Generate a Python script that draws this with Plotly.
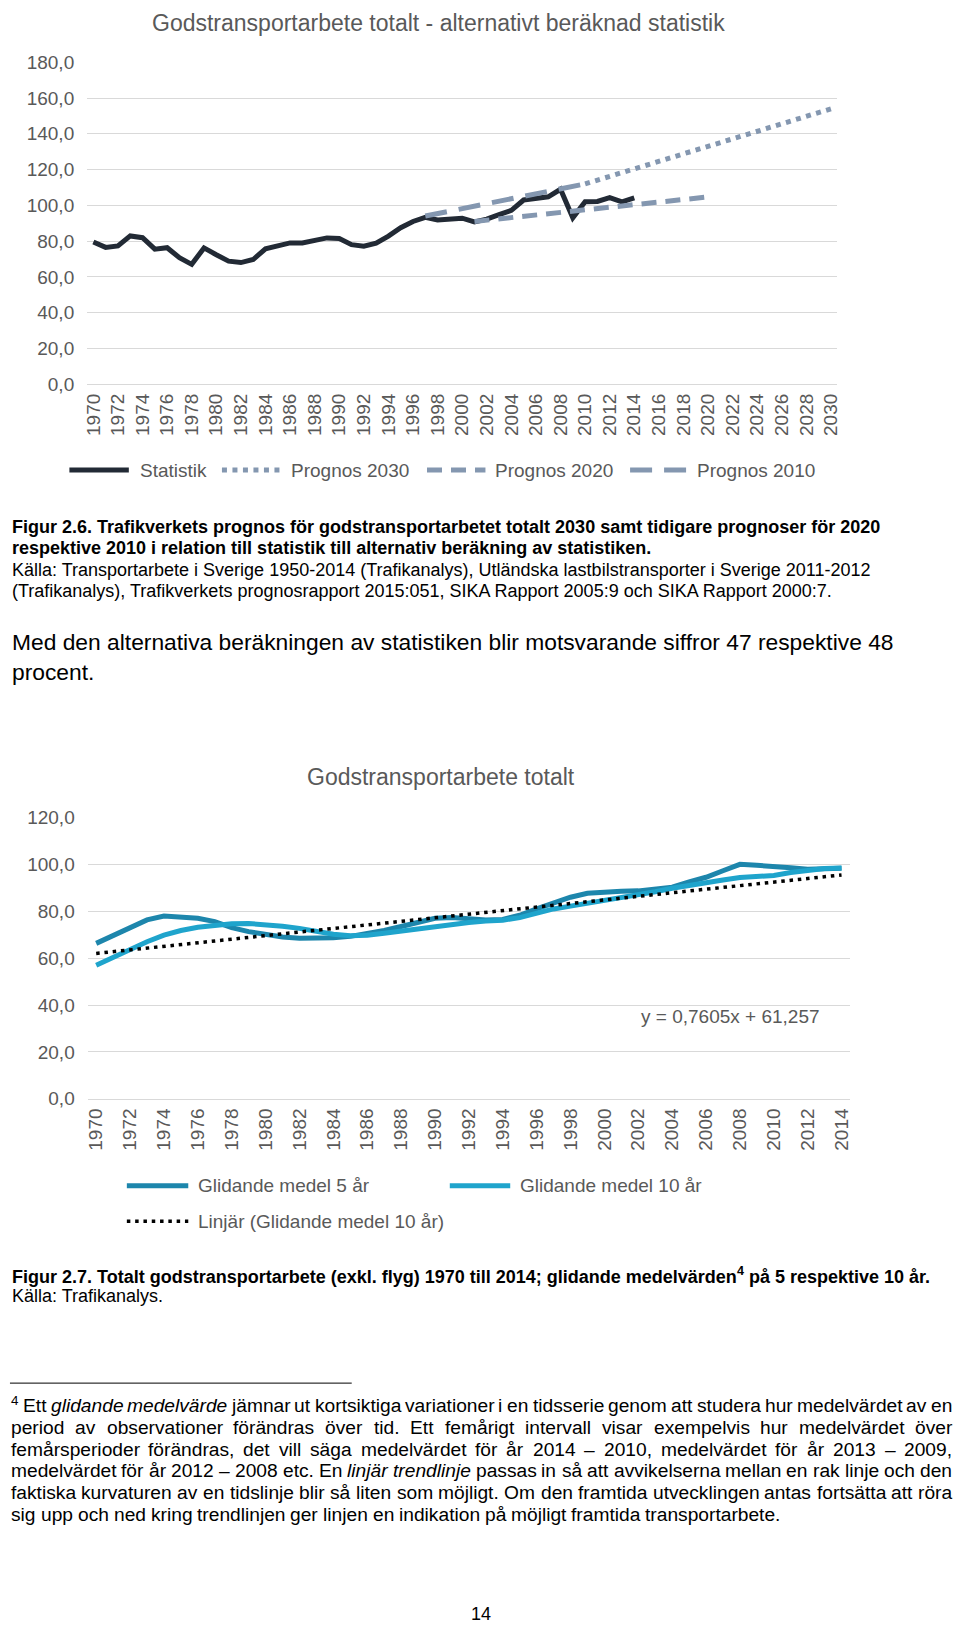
import plotly.graph_objects as go

W, H = 960, 1634
FONT = "Liberation Sans, Arial, sans-serif"
GRAY = "#595959"
GRID = "#D9D9D9"

# ---------------- Chart 1 data ----------------
top_years = list(range(1970, 2031))
stat_years = list(range(1970, 2015))
statistik = [79.5, 76.5, 77.3, 82.9, 81.9, 75.5, 76.3, 70.7, 67.0, 76.2,
             72.4, 68.8, 68.0, 69.7, 75.7, 77.0, 79.0, 79.0, 80.7, 81.8,
             81.5, 78.0, 77.2, 78.9, 82.8, 87.5, 91.0, 93.3, 91.8, 92.2,
             92.8, 90.7, 92.3, 94.8, 97.2, 103.0, 103.7, 104.8, 109.0, 93.0,
             102.0, 102.2, 104.3, 102.0, 104.2]
prog2030_years = [2010, 2030]
prog2030 = [112.0, 154.0]
prog2020_years = [2001, 2020]
prog2020 = [91.0, 104.7]
prog2010_years = [1997, 2010]
prog2010 = [94.0, 112.0]
top_yticks = [0, 20, 40, 60, 80, 100, 120, 140, 160, 180]
top_yticklabels = ["0,0", "20,0", "40,0", "60,0", "80,0", "100,0", "120,0", "140,0", "160,0", "180,0"]
top_title = "Godstransportarbete totalt - alternativt beräknad statistik"
top_legend = ["Statistik", "Prognos 2030", "Prognos 2020", "Prognos 2010"]

# ---------------- Chart 2 data ----------------
bot_years = list(range(1970, 2015))
ma5 = [66.3, 69.8, 73.2, 76.3, 78.0, 77.3, 77.0, 75.6, 73.0, 71.3,
       70.2, 69.0, 68.5, 68.4, 68.7, 69.3, 70.3, 71.8, 73.5, 75.5,
       77.0, 77.3, 76.8, 76.3, 76.5, 78.3, 81.0, 83.5, 86.0, 87.7,
       88.3, 88.5, 88.7, 89.5, 90.3, 92.5, 94.5, 97.3, 100.0, 99.6,
       99.3, 98.6, 97.9, 98.0, 98.4]
ma10 = [57.0, 60.5, 64.0, 67.0, 69.8, 71.8, 73.2, 74.2, 74.7, 74.8,
        74.3, 73.6, 72.7, 71.3, 70.2, 69.6, 69.8, 70.6, 71.6, 72.4,
        73.2, 74.3, 75.2, 75.8, 76.2, 77.3, 79.3, 81.0, 82.2, 83.4,
        84.7, 85.8, 86.8, 88.3, 89.8, 90.8, 92.0, 93.3, 94.4, 94.8,
        95.3, 96.5, 97.4, 98.2, 98.5]
trend_years = [1970, 2014]
trend = [62.0, 95.5]
bot_yticks = [0, 20, 40, 60, 80, 100, 120]
bot_yticklabels = ["0,0", "20,0", "40,0", "60,0", "80,0", "100,0", "120,0"]
bot_title = "Godstransportarbete totalt"
bot_legend = ["Glidande medel 5 år", "Glidande medel 10 år", "Linjär (Glidande medel 10 år)"]
equation = "y = 0,7605x + 61,257"

C_STAT = "#222A35"
C_PROG = "#8497B0"
C_MA5 = "#1D86AC"
C_MA10 = "#1FA4CC"


def X(px):
    return px / W


def Y(py):
    return 1 - py / H


fig = go.Figure()

# chart 1 traces
fig.add_trace(go.Scatter(x=stat_years, y=statistik, mode="lines", name=top_legend[0],
                         line=dict(color=C_STAT, width=5), xaxis="x", yaxis="y"))
fig.add_trace(go.Scatter(x=prog2030_years, y=prog2030, mode="lines", name=top_legend[1],
                         line=dict(color=C_PROG, width=5, dash="5px,5.5px"), xaxis="x", yaxis="y"))
fig.add_trace(go.Scatter(x=prog2020_years, y=prog2020, mode="lines", name=top_legend[2],
                         line=dict(color=C_PROG, width=5, dash="15px,9px"), xaxis="x", yaxis="y"))
fig.add_trace(go.Scatter(x=prog2010_years, y=prog2010, mode="lines", name=top_legend[3],
                         line=dict(color=C_PROG, width=5, dash="22px,12px"), xaxis="x", yaxis="y"))

# chart 2 traces
fig.add_trace(go.Scatter(x=bot_years, y=ma5, mode="lines", name=bot_legend[0],
                         line=dict(color=C_MA5, width=5), xaxis="x2", yaxis="y2"))
fig.add_trace(go.Scatter(x=bot_years, y=ma10, mode="lines", name=bot_legend[1],
                         line=dict(color=C_MA10, width=5), xaxis="x2", yaxis="y2"))
fig.add_trace(go.Scatter(x=trend_years, y=trend, mode="lines", name=bot_legend[2],
                         line=dict(color="#000000", width=3.5, dash="3.5px,4.8px"), xaxis="x2", yaxis="y2"))

tickfont = dict(family=FONT, size=19, color=GRAY)

xcommon = dict(showgrid=False, showline=True, linecolor=GRID, linewidth=1, ticks="",
               tickangle=-90, tickfont=tickfont, zeroline=False, fixedrange=True,
               ticklabelstandoff=1)
ycommon = dict(showgrid=True, gridcolor=GRID, gridwidth=1, showline=False, ticks="",
               tickfont=tickfont, zeroline=False, fixedrange=True, ticklabelstandoff=12)

fig.update_layout(
    width=W, height=H, margin=dict(l=0, r=0, t=0, b=0),
    paper_bgcolor="white", plot_bgcolor="white", showlegend=False,
    font=dict(family=FONT),
    xaxis=dict(domain=[X(83), X(840)], range=[1969.5, 2030.5], anchor="y",
               tickvals=top_years[::2], ticktext=[str(v) for v in top_years[::2]], **xcommon),
    yaxis=dict(domain=[Y(379), Y(53)], range=[0, 180], anchor="x",
               tickvals=top_yticks, ticktext=top_yticklabels, **ycommon),
    xaxis2=dict(domain=[X(83.5), X(853)], range=[1969.5, 2014.5], anchor="y2",
                tickvals=bot_years[::2], ticktext=[str(v) for v in bot_years[::2]], **xcommon),
    yaxis2=dict(domain=[Y(1103), Y(818)], range=[0, 120], anchor="x2",
                tickvals=bot_yticks, ticktext=bot_yticklabels, **ycommon),
)

annotations = []
shapes = []


def ann(text, x, y, size, color="#000000", xanchor="left", yanchor="middle"):
    annotations.append(dict(text=text, x=X(x), y=Y(y), xref="paper", yref="paper",
                            xanchor=xanchor, yanchor=yanchor, showarrow=False,
                            font=dict(family=FONT, size=size, color=color)))


def legline(x0, x1, y, color, width, dash="solid"):
    shapes.append(dict(type="line", xref="paper", yref="paper", x0=X(x0), x1=X(x1),
                       y0=Y(y), y1=Y(y), line=dict(color=color, width=width, dash=dash)))


# chart titles
ann(top_title, 438, 13, 23, GRAY, xanchor="center")
ann(bot_title, 440, 777, 23, GRAY, xanchor="center")
ann(equation, 640, 1020, 19, GRAY)

# legend chart 1
LY1 = 466
legline(65, 125, LY1, C_STAT, 5)
ann(top_legend[0], 134, LY1, 19, GRAY)
legline(219, 280, LY1, C_PROG, 5, "5px,5.5px")
ann(top_legend[1], 287, LY1, 19, GRAY)
legline(426, 485, LY1, C_PROG, 5, "15px,9px")
ann(top_legend[2], 493, LY1, 19, GRAY)
legline(631, 691, LY1, C_PROG, 5, "22px,12px")
ann(top_legend[3], 697, LY1, 19, GRAY)

# legend chart 2
legline(123, 185, 1191, C_MA5, 5)
ann(bot_legend[0], 193, 1191, 19, GRAY)
legline(449, 510, 1191, C_MA10, 5)
ann(bot_legend[1], 518, 1191, 19, GRAY)
legline(123, 185, 1227, "#000000", 3.5, "3.5px,4.8px")
ann(bot_legend[2], 193, 1227, 19, GRAY)

# body text
ann("<b>Figur 2.6. Trafikverkets prognos för godstransportarbetet totalt 2030 samt tidigare prognoser för 2020</b>", 5, 524, 18)
ann("<b>respektive 2010 i relation till statistik till alternativ beräkning av statistiken.</b>", 5, 545, 18)
ann("Källa: Transportarbete i Sverige 1950-2014 (Trafikanalys), Utländska lastbilstransporter i Sverige 2011-2012", 5, 567, 18)
ann("(Trafikanalys), Trafikverkets prognosrapport 2015:051, SIKA Rapport 2005:9 och SIKA Rapport 2000:7.", 5, 589, 18)
ann("Med den alternativa beräkningen av statistiken blir motsvarande siffror 47 respektive 48", 5, 640, 22.8)
ann("procent.", 5, 671, 22.8)
ann("<b>Figur 2.7. Totalt godstransportarbete (exkl. flyg) 1970 till 2014; glidande medelvärden<sup>4</sup> på 5 respektive 10 år.</b>", 5, 1282, 18)
ann("Källa: Trafikanalys.", 5, 1303, 18)
ann("14", 480, 1625, 18, xanchor="center")

# footnote rule
shapes.append(dict(type="line", xref="paper", yref="paper", x0=X(5), x1=X(350),
                   y0=Y(1391), y1=Y(1391), line=dict(color="#000000", width=1)))

# justified footnote (Arial / Liberation Sans advance widths, 1/1000 em)
AW = {" ": 278, ",": 278, ".": 278, ":": 278, ";": 278, "-": 333, "–": 556, "(": 333, ")": 333}
for ch in "0123456789":
    AW[ch] = 556
AW.update({"A": 667, "B": 667, "C": 722, "D": 722, "E": 667, "F": 611, "G": 778, "H": 722,
           "I": 278, "J": 500, "K": 667, "L": 556, "M": 833, "N": 722, "O": 778, "P": 667,
           "Q": 778, "R": 722, "S": 667, "T": 611, "U": 722, "V": 667, "W": 944, "X": 667,
           "Y": 667, "Z": 611})
AW.update({"a": 556, "b": 556, "c": 500, "d": 556, "e": 556, "f": 278, "g": 556, "h": 556,
           "i": 222, "j": 222, "k": 500, "l": 222, "m": 833, "n": 556, "o": 556, "p": 556,
           "q": 556, "r": 333, "s": 500, "t": 278, "u": 556, "v": 500, "w": 722, "x": 500,
           "y": 500, "z": 500, "å": 556, "ä": 556, "ö": 556})


def text_w(s, size):
    return sum(AW.get(c, 556) for c in s) / 1000.0 * size


foot_lines = [
    "^4 Ett *glidande *medelvärde jämnar ut kortsiktiga variationer i en tidsserie genom att studera hur medelvärdet av en",
    "period av observationer förändras över tid. Ett femårigt intervall visar exempelvis hur medelvärdet över",
    "femårsperioder förändras, det vill säga medelvärdet för år 2014 – 2010, medelvärdet för år 2013 – 2009,",
    "medelvärdet för år 2012 – 2008 etc. En *linjär *trendlinje passas in så att avvikelserna mellan en rak linje och den",
    "faktiska kurvaturen av en tidslinje blir så liten som möjligt. Om den framtida utvecklingen antas fortsätta att röra",
    "sig upp och ned kring trendlinjen ger linjen en indikation på möjligt framtida transportarbete.",
]
foot_y = [1414, 1436, 1458, 1480, 1502, 1524]
FS = 19.2
LEFT, RIGHT = 5, 955
for li, (line, ly) in enumerate(zip(foot_lines, foot_y)):
    toks = line.split(" ")
    widths = []
    for t in toks:
        if t.startswith("^"):
            widths.append(text_w(t[1:], FS * 0.7))
        elif t.startswith("*"):
            widths.append(text_w(t[1:], FS))
        else:
            widths.append(text_w(t, FS))
    if li < len(foot_lines) - 1:
        gap = max((RIGHT - LEFT - sum(widths)) / (len(toks) - 1), 0.2 * FS)
    else:
        gap = AW[" "] / 1000.0 * FS
    pos = LEFT
    for t, w in zip(toks, widths):
        if t.startswith("^"):
            ann(t[1:], pos - 1, ly - 5, round(FS * 0.7, 1))
        elif t.startswith("*"):
            ann("<i>" + t[1:] + "</i>", pos - 1, ly, FS)
        else:
            ann(t, pos - 1, ly, FS)
        pos += w + gap

fig.update_layout(annotations=annotations, shapes=shapes)

fig.write_html("out.html", config={"displayModeBar": False, "staticPlot": True},
               post_script="document.body.style.margin='0px';document.body.style.overflow='hidden';")
